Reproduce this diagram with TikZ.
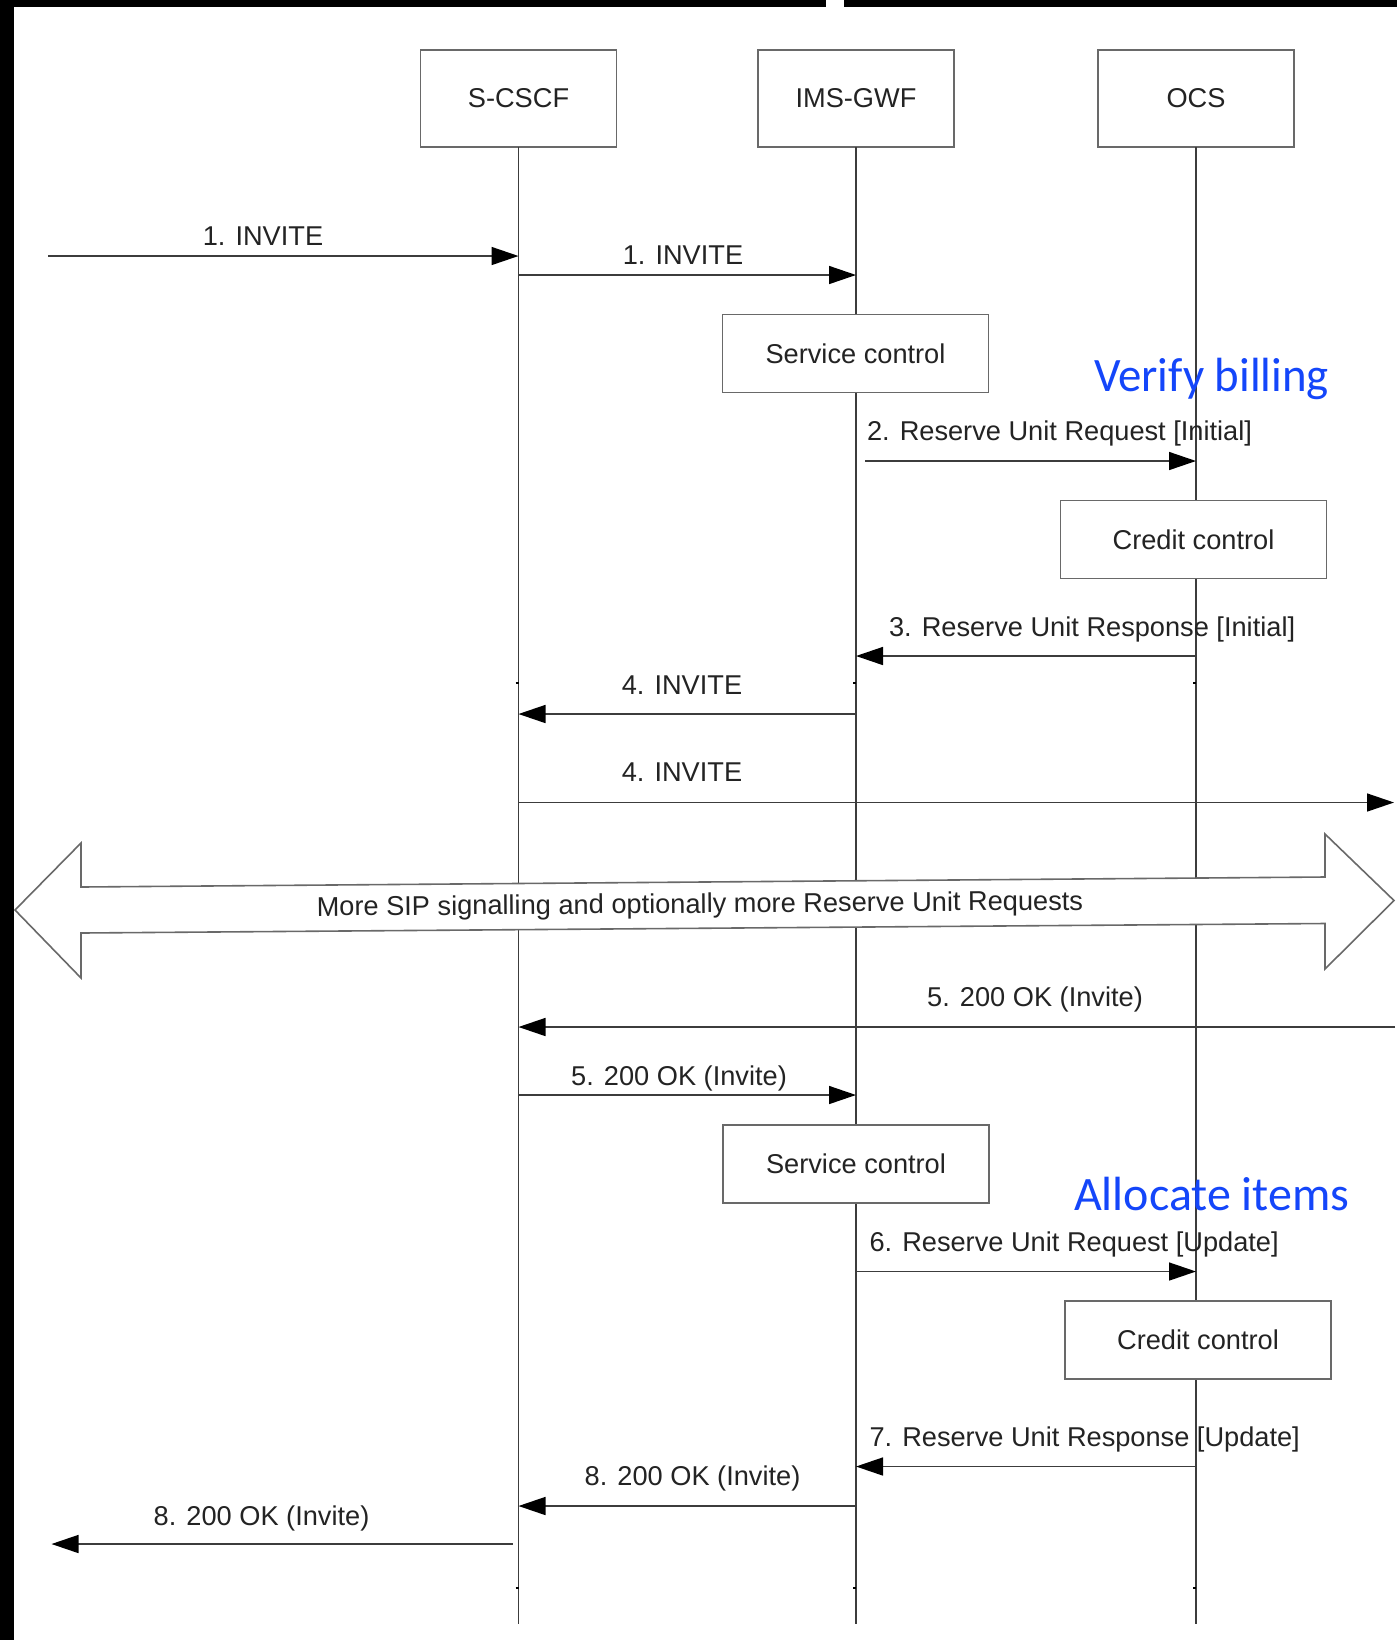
\documentclass[tikz,border=0pt]{standalone}
\usepackage{fontspec}
\setmainfont{Liberation Sans}
\newfontfamily\notefont{Carlito}
\usetikzlibrary{arrows.meta}
\definecolor{noteblue}{RGB}{20,70,250}
\definecolor{linegray}{RGB}{60,60,60}
\definecolor{boxgray}{RGB}{105,105,105}
\definecolor{txtgray}{RGB}{35,35,35}
\begin{document}
\begin{tikzpicture}[x=0.5pt,y=-0.5pt,
  every node/.style={inner sep=0pt, outer sep=0pt},
  lbl/.style={font=\fontsize{13.6}{16}\selectfont, text=txtgray},
  entity/.style={draw=boxgray, line width=0.8pt, fill=white, minimum width=98pt, minimum height=48.5pt, lbl},
  act/.style={draw=boxgray, line width=0.8pt, fill=white, minimum width=133pt, minimum height=39pt, lbl},
  life/.style={draw=linegray, line width=0.7pt},
  msg/.style={draw=linegray, line width=0.75pt, -{Triangle[length=13.5pt,width=9pt,color=black,fill=black]}},
  big/.style={draw=boxgray, line width=0.8pt, fill=white, line join=miter},
  note/.style={font=\notefont\fontsize{24}{28}\selectfont, text=noteblue},
  tick/.style={draw=black, line width=1pt}
]
% page
\fill[white] (0,0) rectangle (1397,1640);
\fill[black] (0,0) rectangle (826,7);
\fill[black] (844,0) rectangle (1397,7);
\fill[black] (0,0) rectangle (14,1640);
\useasboundingbox (0,0) rectangle (1397,1640);

% entities
\node[entity] (s) at (518.5,98.5) {S-CSCF};
\node[entity] (g) at (856,98.5) {IMS-GWF};
\node[entity] (o) at (1196,98.5) {OCS};
\coordinate (bottom) at (0,1624);

% lifelines
\draw[life] (s.south) -- (s |- bottom);
\draw[life] (g.south) -- (g |- bottom);
\draw[life] (o.south) -- (o |- bottom);

% small ticks on lifelines
\foreach \ty in {683,1588}{
  \draw[tick] ([xshift=-1.5pt]s |- 0,\ty) -- (s |- 0,\ty);
  \draw[tick] ([xshift=-1.5pt]g |- 0,\ty) -- (g |- 0,\ty);
  \draw[tick] ([xshift=-1.5pt]o |- 0,\ty) -- (o |- 0,\ty);
}

% activity boxes
\node[act] (sc1) at (855.5,353.5) {Service control};
\node[act] (cc1) at (1193.5,539.5) {Credit control};
\node[act] (sc2) at (856,1164) {Service control};
\node[act] (cc2) at (1198,1340) {Credit control};

% messages
\coordinate (in1) at (48,256);
\draw[msg] (in1) -- (s |- in1);
\node[lbl, anchor=base] (l1a) at (263,245) {1. INVITE};

\coordinate (y1b) at (0,275);
\draw[msg] (s |- y1b) -- (g |- y1b);
\node[lbl, anchor=base] (l1b) at (683,264.5) {1. INVITE};

\coordinate (st2) at (865,461);
\draw[msg] (st2) -- (o |- st2);
\node[lbl, anchor=base west] (l2) at (867,440) {2. Reserve Unit Request [Initial]};

\coordinate (y3) at (0,656);
\draw[msg] (o |- y3) -- (g |- y3);
\node[lbl, anchor=base west] (l3) at (889,636) {3. Reserve Unit Response [Initial]};

\coordinate (y4a) at (0,714);
\draw[msg] (g |- y4a) -- (s |- y4a);
\node[lbl, anchor=base] (l4a) at (682,694) {4. INVITE};

\coordinate (out4) at (1394,802.5);
\draw[msg] (s |- out4) -- (out4);
\node[lbl, anchor=base] (l4b) at (682,781.5) {4. INVITE};

% big double arrow
\draw[big] (15,910) -- (81,843) -- (81,887) -- (1325,877) -- (1325,834) -- (1394,900.5)
  -- (1325,969) -- (1325,923.5) -- (81,933) -- (81,978) -- cycle;
\node[lbl, anchor=base, rotate=0.46] (more) at (700,913) {More SIP signalling and optionally more Reserve Unit Requests};

\coordinate (in5) at (1395,1027);
\draw[msg] (in5) -- (s |- in5);
\node[lbl, anchor=base] (l5a) at (1035,1006.5) {5. 200 OK (Invite)};

\coordinate (y5b) at (0,1095);
\draw[msg] (s |- y5b) -- (g |- y5b);
\node[lbl, anchor=base] (l5b) at (679,1085) {5. 200 OK (Invite)};

\coordinate (y6) at (0,1271.5);
\draw[msg] (g |- y6) -- (o |- y6);
\node[lbl, anchor=base west] (l6) at (869.5,1251.5) {6. Reserve Unit Request [Update]};

\coordinate (y7) at (0,1466.5);
\draw[msg] (o |- y7) -- (g |- y7);
\node[lbl, anchor=base west] (l7) at (869.5,1446.5) {7. Reserve Unit Response [Update]};

\coordinate (y8a) at (0,1506);
\draw[msg] (g |- y8a) -- (s |- y8a);
\node[lbl, anchor=base] (l8a) at (692.5,1485.5) {8. 200 OK (Invite)};

\coordinate (st8) at (512.5,1544);
\coordinate (out8) at (51.5,1544);
\draw[msg] (st8) -- (out8);
\node[lbl, anchor=base] (l8b) at (261.5,1525.5) {8. 200 OK (Invite)};

% notes
\node[note, anchor=base west, xscale=0.975] (verify) at (1094,391.5) {Verify billing};
\node[note, anchor=base west] (alloc) at (1074,1210) {Allocate items};
\end{tikzpicture}
\end{document}
